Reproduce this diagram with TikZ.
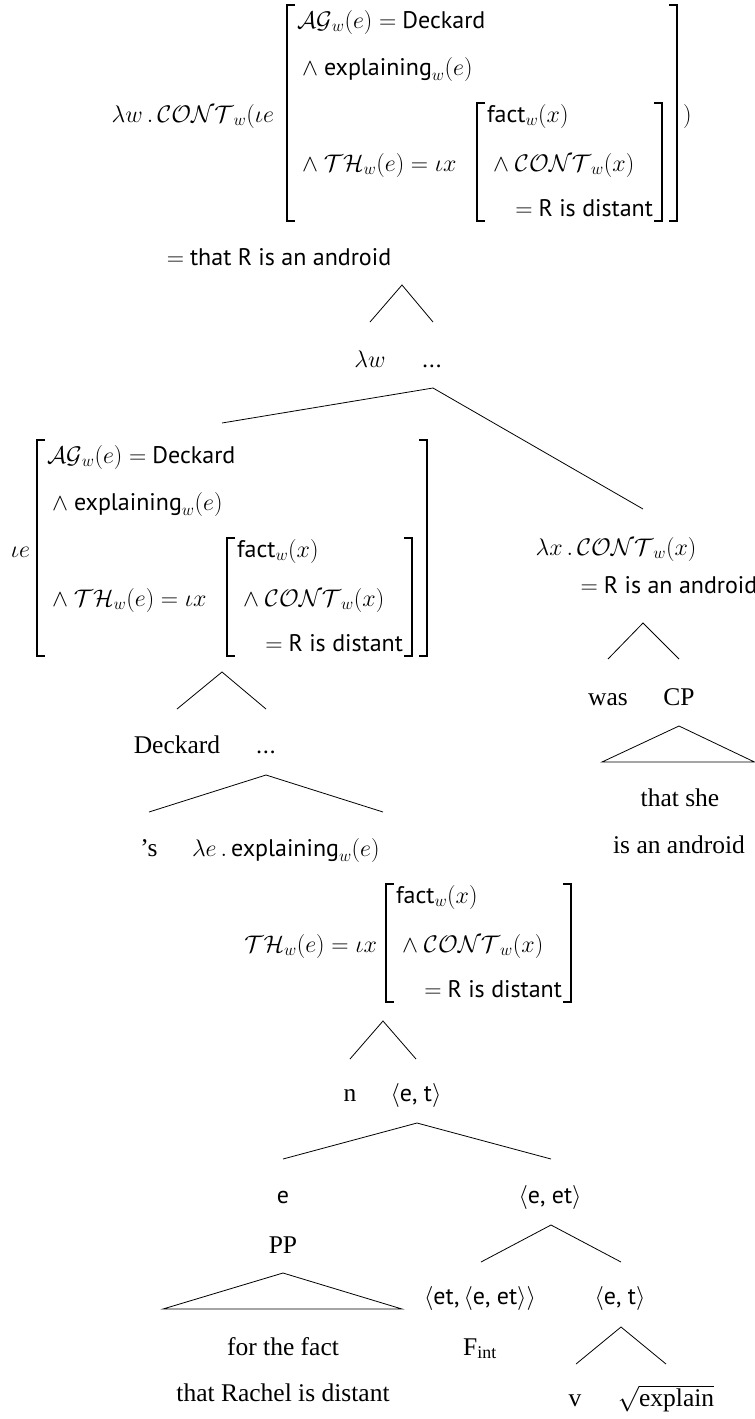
\RequirePackage{fix-cm}
\documentclass[tikz,border=0pt]{standalone}
\usepackage{amsmath}
\usepackage{fontspec}
\setmainfont{Liberation Serif}
\setsansfont{PT Sans}
\newcommand\snf[1]{{\sffamily #1}}
\newcommand\Cont{\mathcal{CONT}}
\newcommand\explw{\snf{explaining}${\vphantom{g}}_w(e)$}
\newcommand\lbrk[3]{\draw[brk] ({#1+8},#2) -- (#1,#2) -- (#1,#3) -- ({#1+8},#3);}
\newcommand\rbrk[3]{\draw[brk] ({#1-8},#2) -- (#1,#2) -- (#1,#3) -- ({#1-8},#3);}
\begin{document}
\begin{tikzpicture}[x=1pt,y=-1pt,
  lbl/.style={inner sep=0pt, outer sep=0pt, font=\fontsize{24}{28}\selectfont},
  ser/.style={inner sep=0pt, outer sep=0pt, font=\fontsize{25.5}{30}\selectfont},
  brk/.style={line width=1.7pt},
  edge/.style={line width=0.8pt}]
\useasboundingbox (0,0) rectangle (755,1419);

% ---------- top formula ----------
\node[lbl, anchor=base east] (top) at (274,122) {$\lambda w\,.\,\Cont_w(\iota e$};
\lbrk{287}{5}{221}
\rbrk{677}{5}{221}
\node[lbl, anchor=base west] (tAG) at (297,28) {$\mathcal{AG}_w(e) =$ \snf{Deckard}};
\node[lbl, anchor=base west] (tEx) at (302,75) {$\wedge$ \explw};
\node[lbl, anchor=base west] (tTH) at (302,171) {$\wedge\ \mathcal{TH}_w(e) = \iota x$};
\lbrk{477}{103}{221}
\rbrk{662}{103}{221}
\node[lbl, anchor=base west] (tFa) at (487,122) {\snf{fact}$_w(x)$};
\node[lbl, anchor=base west] (tCo) at (493,171) {$\wedge\ \Cont_w(x)$};
\node[lbl, anchor=base east] (tRd) at (653,216) {$=$ \snf{R is distant}};
\node[lbl, anchor=base west] (tcl) at (683,122) {$)$};
\node[lbl, anchor=base] (tAnd) at (279,265) {$=$ \snf{that R is an android}};

% ---------- lambda w ----------
\coordinate (a1) at (402,285); \coordinate (a1l) at (370,322); \coordinate (a1r) at (433,322);
\draw[edge] (a1l) -- (a1) -- (a1r);
\node[lbl, anchor=base] (lw) at (370,367) {$\lambda w$};
\node[lbl, anchor=base] (dots1) at (432,367) {\snf{...}};
\coordinate (a2) at (433,388); \coordinate (a2l) at (222,423); \coordinate (a2r) at (643,509);
\draw[edge] (a2l) -- (a2) -- (a2r);

% ---------- left iota e box ----------
\node[lbl, anchor=base east] (ie) at (30,557) {$\iota e$};
\lbrk{37}{440}{656}
\rbrk{427}{440}{656}
\node[lbl, anchor=base west] (lAG) at (47,463) {$\mathcal{AG}_w(e) =$ \snf{Deckard}};
\node[lbl, anchor=base west] (lEx) at (52,510) {$\wedge$ \explw};
\node[lbl, anchor=base west] (lTH) at (52,606) {$\wedge\ \mathcal{TH}_w(e) = \iota x$};
\lbrk{227}{538}{656}
\rbrk{412}{538}{656}
\node[lbl, anchor=base west] (lFa) at (237,557) {\snf{fact}$_w(x)$};
\node[lbl, anchor=base west] (lCo) at (243,606) {$\wedge\ \Cont_w(x)$};
\node[lbl, anchor=base east] (lRd) at (403,651) {$=$ \snf{R is distant}};

\coordinate (a3) at (222,672); \coordinate (a3l) at (177,709); \coordinate (a3r) at (266,709);
\draw[edge] (a3l) -- (a3) -- (a3r);
\node[ser, anchor=base] (deck) at (177,753) {Deckard};
\node[lbl, anchor=base] (dots2) at (266,753) {\snf{...}};
\coordinate (a4) at (266,775); \coordinate (a4l) at (149,812); \coordinate (a4r) at (383,812);
\draw[edge] (a4l) -- (a4) -- (a4r);
\node[ser, anchor=base] (poss) at (149,856) {’s};
\node[lbl, anchor=base west] (le) at (192,856) {$\lambda e\,.\,$\explw};

% ---------- right lambda x ----------
\node[lbl, anchor=base] (lx) at (616,555) {$\lambda x\,.\,\Cont_w(x)$};
\node[lbl, anchor=base] (rand) at (669,593) {$=$ \snf{R is an android}};
\coordinate (a5) at (643,623); \coordinate (a5l) at (608,659); \coordinate (a5r) at (679,659);
\draw[edge] (a5l) -- (a5) -- (a5r);
\node[ser, anchor=base] (was) at (608,705) {was};
\node[ser, anchor=base] (cp) at (679,705) {CP};
\coordinate (c1) at (679,726); \coordinate (c1l) at (602,762); \coordinate (c1r) at (754.5,762);
\draw[edge] (c1) -- (c1l) -- (c1r) -- cycle;
\node[ser, anchor=base] (ts) at (680,806) {that she};
\node[ser, anchor=base] (ia) at (679,853) {is an android};

% ---------- TH box ----------
\node[lbl, anchor=base east] (bTH) at (377,952) {$\mathcal{TH}_w(e) = \iota x$};
\lbrk{386}{884}{1002}
\rbrk{571}{884}{1002}
\node[lbl, anchor=base west] (bFa) at (396,903) {\snf{fact}$_w(x)$};
\node[lbl, anchor=base west] (bCo) at (402,952) {$\wedge\ \Cont_w(x)$};
\node[lbl, anchor=base east] (bRd) at (562,997) {$=$ \snf{R is distant}};

\coordinate (a6) at (383,1021); \coordinate (a6l) at (350,1059); \coordinate (a6r) at (416,1059);
\draw[edge] (a6l) -- (a6) -- (a6r);
\node[ser, anchor=base] (n) at (350,1101) {n};
\node[lbl, anchor=base] (et1) at (416,1101) {$\langle$\snf{e, t}$\rangle$};
\coordinate (a7) at (417,1123); \coordinate (a7l) at (283,1159); \coordinate (a7r) at (551,1159);
\draw[edge] (a7l) -- (a7) -- (a7r);

\node[lbl, anchor=base] (e) at (283,1203) {\snf{e}};
\node[lbl, anchor=base] (eet) at (550,1203) {$\langle$\snf{e, et}$\rangle$};
\node[ser, anchor=base] (pp) at (283,1253) {PP};
\coordinate (p1) at (283,1273); \coordinate (p1l) at (163,1309); \coordinate (p1r) at (402,1309);
\draw[edge] (p1) -- (p1l) -- (p1r) -- cycle;
\node[ser, anchor=base] (ftf) at (283,1355) {for the fact};
\node[ser, anchor=base] (trd) at (283,1401) {that Rachel is distant};

\coordinate (a8) at (551,1225); \coordinate (a8l) at (481,1262); \coordinate (a8r) at (621,1262);
\draw[edge] (a8l) -- (a8) -- (a8r);
\node[lbl, anchor=base] (etx) at (480,1304) {$\langle$\snf{et,\,}$\langle$\snf{e, et}$\rangle\rangle$};
\node[lbl, anchor=base] (et2) at (620,1304) {$\langle$\snf{e, t}$\rangle$};
\node[ser, anchor=base] (fint) at (480,1355) {F\textsubscript{int}};
\coordinate (a9) at (621,1327); \coordinate (a9l) at (576,1364); \coordinate (a9r) at (666,1364);
\draw[edge] (a9l) -- (a9) -- (a9r);
\node[ser, anchor=base] (v) at (575,1406) {v};
\node[ser, anchor=base] (expl) at (666,1406) {$\sqrt{\mbox{explain}}$};
\end{tikzpicture}
\end{document}
